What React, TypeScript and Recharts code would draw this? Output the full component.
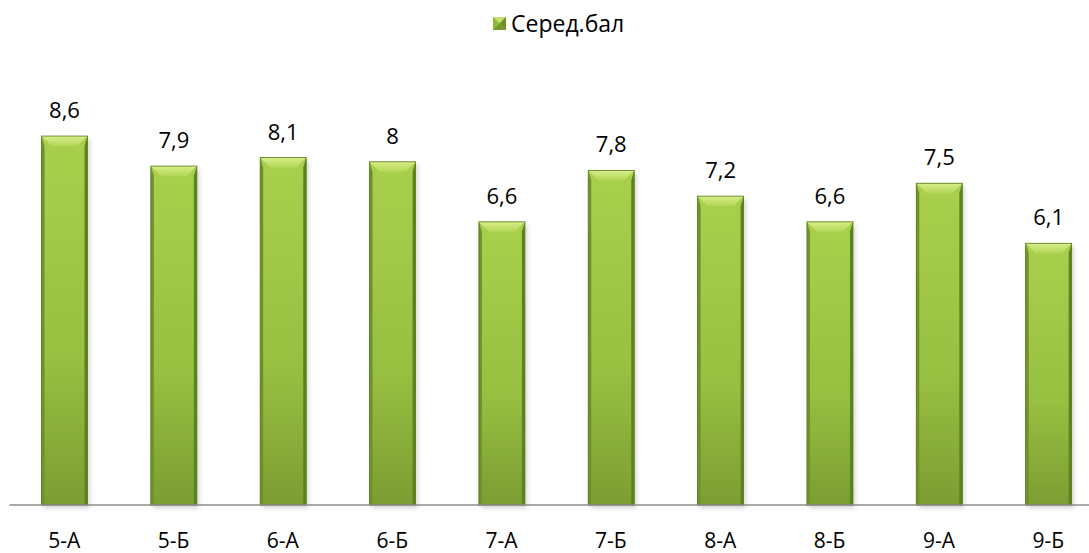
import { BarChart, Bar, XAxis, YAxis, LabelList } from 'recharts';

const classes = ['5-А', '5-Б', '6-А', '6-Б', '7-А', '7-Б', '8-А', '8-Б', '9-А', '9-Б'];
const avgScores = [8.6, 7.9, 8.1, 8, 6.6, 7.8, 7.2, 6.6, 7.5, 6.1];
const seriesName = 'Серед.бал';

const data = classes.map((c, i) => ({ name: c, score: avgScores[i] }));

const FONT = '"Open Sans", "Noto Sans", sans-serif';

function BevelBar(props: any) {
  const { x, y, width, height } = props;
  if (!height || height <= 0) return null;
  const b = Math.min(10, width / 4);
  const s = 3;
  return (
    <g>
      <rect x={x + 2} y={y + 3} width={width} height={height} fill="#000" opacity={0.18} filter="url(#barShadow)" />
      <rect x={x} y={y} width={width} height={height} fill="url(#barBody)" />
      <polygon
        points={`${x},${y} ${x + s},${y + b} ${x + s},${y + height} ${x},${y + height}`}
        fill="#6e9228"
      />
      <polygon
        points={`${x + width},${y} ${x + width - s},${y + b} ${x + width - s},${y + height} ${x + width},${y + height}`}
        fill="#5f8220"
      />
      <polygon
        points={`${x},${y} ${x + width},${y} ${x + width - b},${y + b} ${x + b},${y + b}`}
        fill="url(#barTop)"
      />
      <rect x={x} y={y} width={width} height={height} fill="none" stroke="#587a1c" strokeWidth={0.8} />
    </g>
  );
}

function LegendBox() {
  return (
    <div
      style={{
        position: 'absolute',
        left: 493,
        top: 7,
        display: 'flex',
        alignItems: 'center',
        fontFamily: FONT,
        fontSize: 23,
        color: '#000',
      }}
    >
      <svg width={13} height={13} style={{ marginRight: 5 }}>
        <rect x={0} y={0} width={13} height={13} fill="#8fb83c" />
        <polygon points="0,0 13,0 6.5,6.5" fill="#c8e070" />
        <polygon points="0,13 13,13 6.5,6.5" fill="#76992c" />
        <polygon points="13,0 13,13 6.5,6.5" fill="#6e9228" />
      </svg>
      <span>{seriesName}</span>
    </div>
  );
}

const fmt = (v: any) => String(v).replace('.', ',');

export default function App() {
  return (
    <div style={{ position: 'absolute', left: 0, top: 0, width: 1089, height: 553, overflow: 'hidden', background: '#fff' }}>
      <LegendBox />
      <BarChart width={1110} height={553} data={data} margin={{ top: 76, right: 7, left: 9.5, bottom: 0 }}>
        <defs>
          <linearGradient id="barBody" x1="0" y1="0" x2="0" y2="1">
            <stop offset="0" stopColor="#a9d04c" />
            <stop offset="0.6" stopColor="#98c041" />
            <stop offset="1" stopColor="#7c9d33" />
          </linearGradient>
          <linearGradient id="barTop" x1="0" y1="0" x2="0" y2="1">
            <stop offset="0" stopColor="#d8ee8a" />
            <stop offset="1" stopColor="#b3d656" />
          </linearGradient>
          <filter id="barShadow" x="-20%" y="-20%" width="140%" height="140%">
            <feGaussianBlur stdDeviation="2.5" />
          </filter>
        </defs>
        <XAxis
          dataKey="name"
          height={48}
          axisLine={{ stroke: '#8c8c8c', strokeWidth: 1.5 }}
          tickLine={false}
          tickMargin={22}
          tick={{ fontFamily: FONT, fontSize: 21, fill: '#000' }}
          interval={0}
        />
        <YAxis hide domain={[0, 10]} />
        <Bar dataKey="score" name={seriesName} barSize={46} shape={<BevelBar />} isAnimationActive={false}>
          <LabelList
            dataKey="score"
            position="top"
            offset={18}
            formatter={fmt}
            style={{ fontFamily: FONT, fontSize: 22, fill: '#000' }}
          />
        </Bar>
      </BarChart>
    </div>
  );
}
